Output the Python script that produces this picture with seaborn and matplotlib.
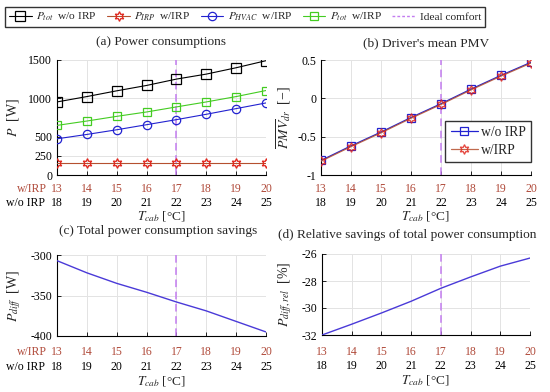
import matplotlib
matplotlib.use('Agg')
import matplotlib.pyplot as plt
import seaborn as sns

# data
t_wo = [18, 19, 20, 21, 22, 23, 24, 25]   # T_cab without IRP
t_w = [13, 14, 15, 16, 17, 18, 19, 20]    # T_cab with IRP
ideal_t = 22

p_tot_wo = [953, 1023, 1098, 1168, 1251, 1316, 1399, 1491]
p_irp = [160, 160, 160, 160, 160, 160, 160, 160]
p_hvac = [472, 529, 590, 656, 722, 792, 866, 940]
p_tot_w = [647, 704, 765, 822, 888, 953, 1023, 1102]

pmv_wo = [-0.81, -0.62, -0.44, -0.25, -0.07, 0.12, 0.30, 0.47]
pmv_w = [-0.82, -0.63, -0.45, -0.26, -0.08, 0.11, 0.29, 0.46]

p_diff = [-307, -322, -335, -346, -358, -369, -382, -395]
p_diff_rel = [-32.0, -31.2, -30.37, -29.5, -28.54, -27.7, -26.9, -26.3]

sns.set_theme(style='ticks')
plt.rcParams['font.family'] = ['Liberation Serif', 'DejaVu Serif']
plt.rcParams['mathtext.fontset'] = 'stix'
plt.rcParams['axes.unicode_minus'] = False

RED_TXT = '#b04a3a'
RED_LINE = '#b5502f'
RED_MK = '#e0241b'
BLUE = '#2222d0'
GREEN = '#44cc22'
VIOLET = '#c37cf0'
LINE_BLUE = '#4a3ad8'
FS = 8.5

fig = plt.figure(figsize=(5.5, 3.92), dpi=100)


def px_axes(l, t, r, b):
    return fig.add_axes([l / 550, 1 - b / 392, (r - l) / 550, (b - t) / 392])


ax_a = px_axes(57, 60, 266, 175)
ax_b = px_axes(321, 60, 531, 175)
ax_c = px_axes(57, 255, 266, 336)
ax_d = px_axes(322, 254, 530, 335)


def style_axis(ax, red_off, black_off, row_names):
    ax.set_xlim(18, 25)
    ax.set_xticks(t_wo)
    ax.set_xticklabels([str(v) for v in t_wo])
    ax.grid(True, color='#e3e3e3', linewidth=0.7)
    ax.set_axisbelow(True)
    for s in ['top', 'right']:
        ax.spines[s].set_visible(False)
    for s in ['left', 'bottom']:
        ax.spines[s].set_color('black')
        ax.spines[s].set_linewidth(0.8)
    ax.tick_params(direction='in', length=3, width=0.6, labelsize=FS,
                   colors='black')
    ax.tick_params(axis='x', pad=black_off - 4.2)
    for x, lab in zip(t_wo, t_w):
        ax.annotate(str(lab), xy=(x, 0), xycoords=ax.get_xaxis_transform(),
                    xytext=(0, -red_off), textcoords='offset points',
                    ha='center', va='center', color=RED_TXT, fontsize=FS)
    if row_names:
        ax.annotate('w/IRP', xy=(0, 0), xycoords='axes fraction',
                    xytext=(-7.5, -red_off), textcoords='offset points',
                    ha='right', va='center', color=RED_TXT, fontsize=FS)
        ax.annotate('w/o IRP', xy=(0, 0), xycoords='axes fraction',
                    xytext=(-8.5, -black_off), textcoords='offset points',
                    ha='right', va='center', color='black', fontsize=FS)
    ax.axvline(ideal_t, color=VIOLET, linestyle=(0, (5, 3)), linewidth=1.1,
               zorder=1)


# (a) power consumptions
sns.lineplot(x=t_wo, y=p_tot_wo, ax=ax_a, color='black', linewidth=0.8,
             marker='s', markersize=7, markerfacecolor='none',
             markeredgecolor='black', markeredgewidth=0.9,
             label=r'$P_{tot}$  w/o IRP', zorder=3)
sns.lineplot(x=t_wo, y=p_irp, ax=ax_a, color=RED_LINE, linewidth=0.8,
             marker=(6, 1, 0), markersize=7, markerfacecolor='none',
             markeredgecolor=RED_MK, markeredgewidth=0.9,
             label=r'$P_{IRP}$  w/IRP', zorder=3)
sns.lineplot(x=t_wo, y=p_hvac, ax=ax_a, color=BLUE, linewidth=0.8,
             marker='o', markersize=6, markerfacecolor='none',
             markeredgecolor=BLUE, markeredgewidth=0.9,
             label=r'$P_{HVAC}$  w/IRP', zorder=3)
sns.lineplot(x=t_wo, y=p_tot_w, ax=ax_a, color=GREEN, linewidth=0.8,
             marker='s', markersize=5.5, markerfacecolor='none',
             markeredgecolor=GREEN, markeredgewidth=0.9,
             label=r'$P_{tot}$  w/IRP', zorder=3)
ax_a.set_ylim(0, 1500)
ax_a.set_yticks([0, 250, 500, 1000, 1500])
ax_a.set_yticklabels(['0', '250', '500', '1000', '1500'])
style_axis(ax_a, 10.2, 20.4, True)
ax_a.plot([], [], color=VIOLET, linestyle=(0, (2, 1.5)), linewidth=1,
          label='Ideal comfort')
handles, labels = ax_a.get_legend_handles_labels()
ax_a.get_legend().remove()
fig.legend(handles, labels, loc='lower left',
           bbox_to_anchor=(5 / 550, 1 - 27 / 392, 480 / 550, 23 / 392),
           mode='expand', ncol=5, fontsize=8.2, frameon=True, fancybox=False,
           edgecolor='#333333', framealpha=1, handlelength=2.0,
           handletextpad=0.4, borderpad=0.35, columnspacing=0.8,
           borderaxespad=0)
ax_a.set_ylabel('$P$  [W]', fontsize=10)
ax_a.yaxis.set_label_coords(-0.17, 0.5)

# (b) driver's mean PMV
sns.lineplot(x=t_wo, y=pmv_wo, ax=ax_b, color=BLUE, linewidth=0.9,
             marker='s', markersize=6, markerfacecolor='none',
             markeredgecolor=BLUE, markeredgewidth=0.9, label='w/o IRP',
             zorder=3)
sns.lineplot(x=t_wo, y=pmv_w, ax=ax_b, color=RED_LINE, linewidth=0.9,
             marker=(6, 1, 0), markersize=7, markerfacecolor='none',
             markeredgecolor=RED_MK, markeredgewidth=0.9, label='w/IRP',
             zorder=3, alpha=0.85)
ax_b.set_ylim(-1, 0.5)
ax_b.set_yticks([-1, -0.5, 0, 0.5])
ax_b.set_yticklabels(['-1', '-0.5', '0', '0.5'])
style_axis(ax_b, 10.2, 20.4, False)
ax_b.legend(loc='lower right', bbox_to_anchor=(1.0, 0.11), fontsize=9.8,
            frameon=True, fancybox=False, edgecolor='#333333', framealpha=1,
            handlelength=2.0, handletextpad=0.2, borderpad=0.4,
            labelspacing=0.35, borderaxespad=0)
ax_b.set_ylabel(r'$\overline{PMV}_{dr}$  [−]', fontsize=10)
ax_b.yaxis.set_label_coords(-0.135, 0.5)

# (c) total power consumption savings
sns.lineplot(x=t_wo, y=p_diff, ax=ax_c, color=LINE_BLUE, linewidth=1.0,
             zorder=3)
ax_c.set_ylim(-400, -300)
ax_c.set_yticks([-400, -350, -300])
ax_c.set_yticklabels(['-400', '-350', '-300'])
style_axis(ax_c, 11.3, 22.2, True)
ax_c.set_ylabel('$P_{diff}$  [W]', fontsize=10)
ax_c.yaxis.set_label_coords(-0.165, 0.5)

# (d) relative savings
sns.lineplot(x=t_wo, y=p_diff_rel, ax=ax_d, color=LINE_BLUE, linewidth=1.0,
             zorder=3)
ax_d.set_ylim(-32, -26)
ax_d.set_yticks([-32, -30, -28, -26])
ax_d.set_yticklabels(['-32', '-30', '-28', '-26'])
style_axis(ax_d, 12.0, 22.2, False)
ax_d.set_ylabel('$P_{diff,rel}$  [%]', fontsize=10)
ax_d.yaxis.set_label_coords(-0.135, 0.5)

for ax, y in [(ax_a, -0.30), (ax_b, -0.30), (ax_c, -0.48), (ax_d, -0.48)]:
    ax.set_xlabel(r'$T_{cab}$ [°C]', fontsize=9.6)
    ax.xaxis.set_label_coords(0.5, y)
    ax.xaxis.label.set_va('top')

# panel titles
fig.text(161 / 550, 1 - 41.5 / 392, '(a) Power consumptions', ha='center',
         va='center', fontsize=9.6)
fig.text(426 / 550, 1 - 43 / 392, "(b) Driver's mean PMV", ha='center',
         va='center', fontsize=9.6)
fig.text(158 / 550, 1 - 231.5 / 392, '(c) Total power consumption savings',
         ha='center', va='center', fontsize=9.6)
fig.text(407 / 550, 1 - 235 / 392, '(d) Relative savings of total power consumption',
         ha='center', va='center', fontsize=9.6)

fig.savefig('out.png', dpi=100, facecolor='white')
plt.close(fig)
